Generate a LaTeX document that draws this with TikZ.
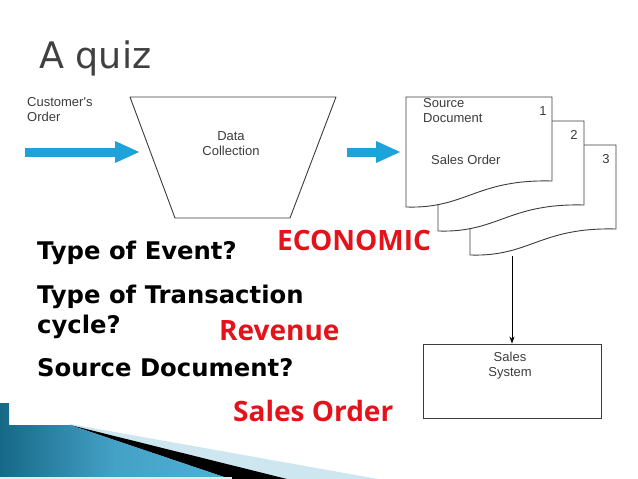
\documentclass[tikz,border=0pt]{standalone}
\usepackage{fontspec}
\setmainfont{DejaVu Sans}
\newfontfamily\answerfont{Open Sans}
\newfontfamily\diagfont{Liberation Sans}
\usetikzlibrary{arrows.meta}
\definecolor{quizblue}{RGB}{30,162,218}
\definecolor{quizred}{RGB}{228,18,26}
\definecolor{titlegray}{RGB}{64,64,64}
\definecolor{diaggray}{RGB}{60,60,60}
\definecolor{tealdark}{RGB}{22,104,135}
\definecolor{teallight}{RGB}{80,176,214}
\definecolor{paleblue}{RGB}{205,230,240}

\begin{document}
\begin{tikzpicture}[
            x=1pt, y=-1pt,
            label_txt/.style={inner sep=0pt, anchor=base west, font=\bfseries\fontsize{24.3}{28}\selectfont},
            answer/.style={label_txt, text=quizred, font=\answerfont\bfseries\fontsize{28}{32}\selectfont},
            diag_txt/.style={inner sep=0pt, align=center, text=diaggray, font=\diagfont\fontsize{13}{15}\selectfont},
            page/.style={draw=diaggray, fill=white, line width=0.9pt, line join=round},
            bluearrow/.style={quizblue, line width=9pt, -{Triangle[length=25pt, width=20pt]}},
            flow/.style={draw=black, line width=0.8pt, -{Stealth[length=7pt, width=5pt]}}
        ]
        \useasboundingbox (0,0) rectangle (638,479);

        % Title
        \node[inner sep=0pt, anchor=base west, text=titlegray, font=\fontsize{36.5}{40}\selectfont] (title) at (39,68) {A quiz};

        % Customer's order coming in
        \node[diag_txt, align=left, anchor=base west] (cust) at (27,121) {Customer's\\Order};
        \coordinate (custtail) at (25,152);
        \coordinate (custhead) at (140,152);
        \draw[bluearrow] (custtail) -- (custhead);

        % Data collection funnel
        \draw[page] (130,97) -- (336,97) -- (290,218) -- (175,218) -- cycle;
        \node[diag_txt, anchor=base] (collect) at (231,155) {Data\\Collection};

        % Out to the source documents
        \coordinate (outtail) at (347,152);
        \coordinate (outhead) at (401,152);
        \draw[bluearrow] (outtail) -- (outhead);

        % Source document copies (back to front)
        \foreach \k in {2,1,0} {
            \draw[page, shift={(406+32*\k,97+24*\k)}] (0,0) -- (146,0) -- (146,84)
                .. controls (70,82) and (60,112) .. (0,110) -- cycle;
        }
        \node[diag_txt, align=left, anchor=base west] (srcdoc) at (423,122) {Source\\Document};
        \node[diag_txt, anchor=base west] (salesorder) at (431,164) {Sales Order};
        \node[diag_txt, anchor=base] (n1) at (543,115) {1};
        \node[diag_txt, anchor=base] (n2) at (574,139) {2};
        \node[diag_txt, anchor=base] (n3) at (606,163) {3};

        % Sales system
        \node[draw=diaggray, line width=0.9pt, minimum width=178pt, minimum height=74pt, inner sep=0pt] (sales) at (512,381) {};
        \node[diag_txt, anchor=base] (salestxt) at (510,376) {Sales\\System};
        \coordinate (docbot) at (512,256);
        \draw[flow] (docbot) -- (docbot |- sales.north);

        % Questions
        \node[label_txt] (q1) at (37,259) {Type of Event?};
        \node[label_txt] (q2) at (37,303) {Type of Transaction};
        \node[label_txt] (q2b) at (37,333) {cycle?};
        \node[label_txt] (q3) at (37,376) {Source Document?};

        % Answers
        \node[answer] (a1) at (277,250) {ECONOMIC};
        \node[answer] (a2) at (219,340) {Revenue};
        \node[answer] (a3) at (233,421) {Sales Order};

        % Bottom corner decoration
        \fill[paleblue] (70,424) -- (378,479) -- (70,479) -- cycle;
        \fill[black] (70,425) -- (287,479) -- (230,479) -- cycle;
        \shade[left color=tealdark, right color=teallight, middle color=teallight!80!tealdark]
            (0,403) -- (9,403) -- (9,425) -- (70,425) -- (230,479) -- (0,479) -- cycle;
        \fill[paleblue!70] (0,477) rectangle (232,479);

    \end{tikzpicture}
\end{document}
